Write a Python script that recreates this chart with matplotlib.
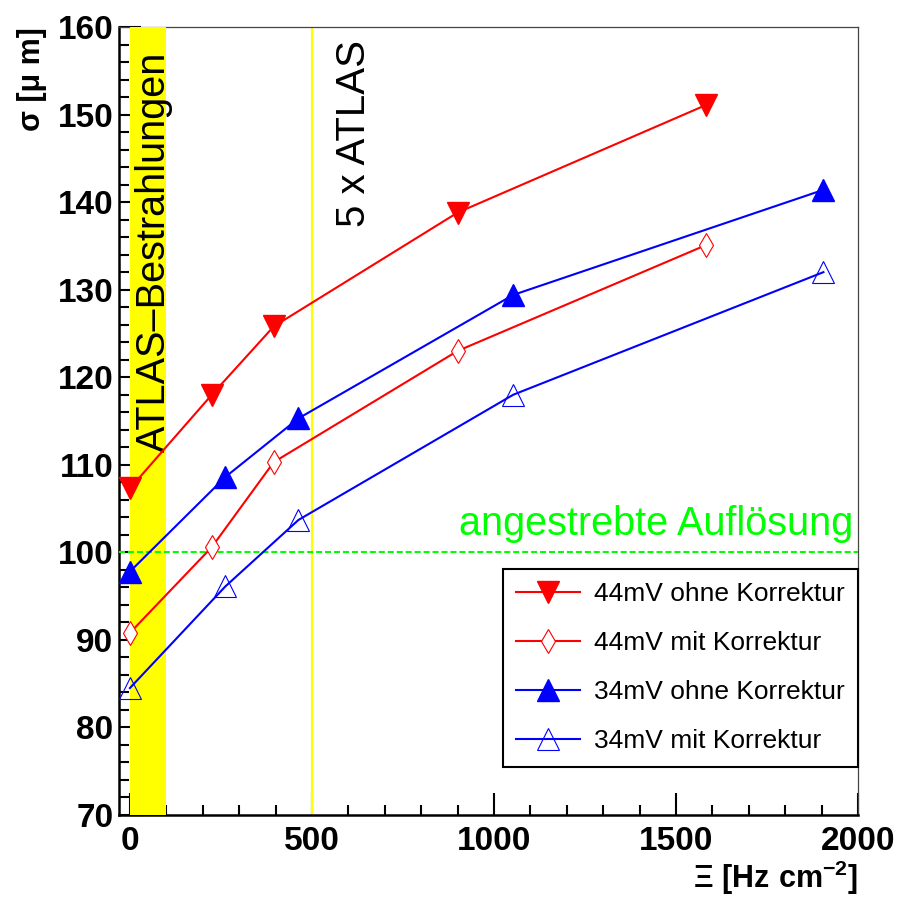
import matplotlib
matplotlib.use('Agg')
import matplotlib.pyplot as plt
import matplotlib.ticker as ticker

plt.rcParams['font.family'] = ['Liberation Sans', 'DejaVu Sans']
plt.rcParams['mathtext.fontset'] = 'custom'
plt.rcParams['mathtext.rm'] = 'Liberation Sans:bold'
plt.rcParams['mathtext.it'] = 'Liberation Sans:bold'
plt.rcParams['mathtext.bf'] = 'Liberation Sans:bold'
plt.rcParams['mathtext.default'] = 'rm'

# rate [Hz cm^-2] and resolution [um]
x_44 = [0, 225, 395, 900, 1583]
x_34 = [0, 262, 463, 1053, 1905]
s_44_ohne = [107.3, 118.0, 125.8, 138.8, 151.1]
s_44_mit = [90.8, 100.6, 110.3, 123.0, 135.1]
s_34_ohne = [97.8, 108.6, 115.3, 129.4, 141.4]
s_34_mit = [84.5, 96.1, 103.7, 118.0, 132.0]
labels = ['44mV ohne Korrektur', '44mV mit Korrektur',
          '34mV ohne Korrektur', '34mV mit Korrektur']
atlas_band = (0, 100)
atlas_x5 = 500
ziel = 100

fig = plt.figure(figsize=(9, 9), dpi=100)
ax = fig.add_axes([119/900, 1-815/900, 739/900, 788/900])
ax.set_xlim(-30, 2000)
ax.set_ylim(70, 160)

ax.axvspan(*atlas_band, color='#ffff00', lw=0, zorder=2.6)
ax.axvline(atlas_x5, color='#ffff00', lw=1.6, zorder=2)
ax.axhline(ziel, color='#00ff00', lw=1.5, dashes=(2.9, 1.4), zorder=3)

ax.plot(x_44, s_44_ohne, color='red', lw=1.5, marker='v', ms=16,
        mfc='red', mec='red', label=labels[0], zorder=5)
ax.plot(x_44, s_44_mit, color='red', lw=1.5, marker='d', ms=12,
        mfc='white', mec='red', mew=0.8, label=labels[1], zorder=5)
ax.plot(x_34, s_34_ohne, color='blue', lw=1.5, marker='^', ms=16,
        mfc='blue', mec='blue', label=labels[2], zorder=5)
ax.plot(x_34, s_34_mit, color='blue', lw=1.5, marker='^', ms=16,
        mfc='none', mec='blue', mew=0.8, label=labels[3], zorder=5)

ax.text(96, 111.5, 'ATLAS\u2013Bestrahlungen', rotation=90, rotation_mode='anchor',
        ha='left', va='baseline', fontsize=28.5, zorder=4)
ax.text(647, 137.2, '5 x ATLAS', rotation=90, rotation_mode='anchor',
        ha='left', va='baseline', fontsize=29, zorder=4)
ax.text(1987, 102.0, 'angestrebte Aufl\u00f6sung', color='#00ff00',
        ha='right', va='baseline', fontsize=28.5, zorder=4)

ax.xaxis.set_major_locator(ticker.MultipleLocator(500))
ax.xaxis.set_minor_locator(ticker.MultipleLocator(100))
ax.yaxis.set_major_locator(ticker.MultipleLocator(10))
ax.yaxis.set_minor_locator(ticker.MultipleLocator(2))
ax.tick_params(which='both', direction='in', top=False, right=False, width=1.5)
ax.tick_params(which='major', length=16, labelsize=24, pad=5)
ax.tick_params(which='minor', length=7.5)
for lab in ax.get_xticklabels() + ax.get_yticklabels():
    lab.set_fontweight('bold')
ax.tick_params(axis='y', pad=4)
ax.tick_params(axis='x', pad=8)

for s in ['left', 'bottom']:
    ax.spines[s].set_linewidth(1.8)
for s in ['top', 'right']:
    ax.spines[s].set_linewidth(0.9)
    ax.spines[s].set_color('#444444')

leg = ax.legend(loc='upper left', bbox_to_anchor=(0.5196, 0.0622, 0.4804, 0.25),
                mode='expand', fontsize=19, handlelength=2.4, handletextpad=0.55,
                labelspacing=0.95, borderpad=0.5, fancybox=False,
                framealpha=1, edgecolor='black', borderaxespad=0)
leg.get_frame().set_linewidth(1.5)
leg.set_zorder(6)

fig.text(32/900, 1-27/900, '\u03c3 [\u03bc m]', rotation=90, ha='center', va='top',
         fontsize=22, fontweight='bold')
fig.text(858/900, 0.003, r'$\Xi\ [Hz\ cm^{-2}]$', ha='right', va='bottom',
         fontsize=22)

fig.savefig('out.png', dpi=100)
